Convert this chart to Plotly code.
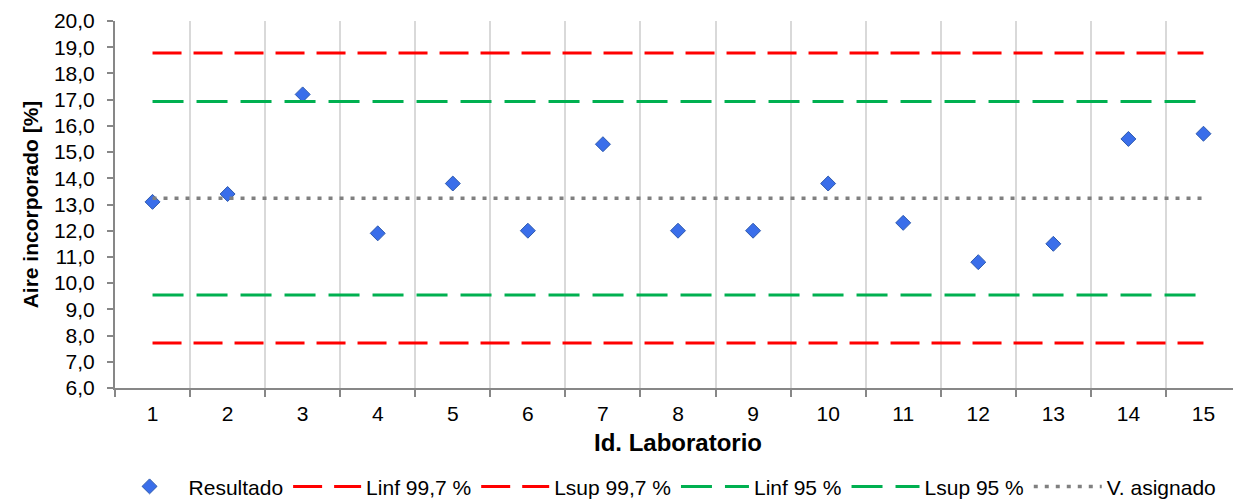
import plotly.graph_objects as go

labs = list(range(1, 15 + 1))
resultado = [13.1, 13.4, 17.2, 11.9, 13.8, 12.0, 15.3, 12.0, 12.0, 13.8, 12.3, 10.8, 11.5, 15.5, 15.7]
v_asignado = 13.24
linf_997 = 7.72
lsup_997 = 18.78
linf_95 = 9.55
lsup_95 = 16.93
y_ticks = [6.0 + i for i in range(15)]

FONT = "Liberation Sans, Arial, sans-serif"

fig = go.Figure()
fig.add_trace(go.Scatter(
    x=labs, y=resultado, mode="markers", name="Resultado",
    marker=dict(symbol="diamond", size=11.5, color="#3A6EEA",
                line=dict(color="#2E5AAE", width=1)),
))
fig.add_trace(go.Scatter(x=labs, y=[linf_997] * len(labs), mode="lines", name="Linf 99,7 %",
                         line=dict(color="#FF0000", width=3, dash="29px,12px")))
fig.add_trace(go.Scatter(x=labs, y=[lsup_997] * len(labs), mode="lines", name="Lsup 99,7 %",
                         line=dict(color="#FF0000", width=3, dash="29px,12px")))
fig.add_trace(go.Scatter(x=labs, y=[linf_95] * len(labs), mode="lines", name="Linf 95 %",
                         line=dict(color="#00B050", width=3, dash="31px,13px")))
fig.add_trace(go.Scatter(x=labs, y=[lsup_95] * len(labs), mode="lines", name="Lsup 95 %",
                         line=dict(color="#00B050", width=3, dash="31px,13px")))
fig.add_trace(go.Scatter(x=labs, y=[v_asignado] * len(labs), mode="lines", name="V. asignado",
                         line=dict(color="#808080", width=3.5, dash="4px,7px")))

fig.update_layout(
    width=1233, height=491,
    margin=dict(l=107, r=0, t=13, b=111),
    paper_bgcolor="white", plot_bgcolor="white",
    separators=",.",
    font=dict(family=FONT, size=21, color="#000000"),
    showlegend=True,
    legend=dict(orientation="h", x=0.5337, xanchor="center", xref="container",
                y=0.025, yanchor="middle", yref="container",
                font=dict(size=21, family=FONT), itemwidth=68, tracegroupgap=0),
)
fig.update_xaxes(
    range=[0.5, 15.5], tickmode="array", tickvals=labs, ticktext=[str(v) for v in labs],
    showgrid=False, ticks="outside", ticklen=6, tickcolor="rgba(0,0,0,0)",
    showline=True, linecolor="#878787", linewidth=2,
    tickfont=dict(size=21), zeroline=False,
    minor=dict(tickmode="array", tickvals=[i + 0.5 for i in range(0, 16)], showgrid=True,
               gridcolor="#D9D9D9", gridwidth=1.5, ticks="outside", ticklen=7,
               tickcolor="#878787", tickwidth=1.5),
    title=dict(text="<b>Id. Laboratorio</b>", font=dict(size=24), standoff=10),
)
fig.update_yaxes(
    range=[6, 20], tickmode="array", tickvals=y_ticks, tickformat=".1f",
    showgrid=False, ticks="outside", ticklen=6, tickcolor="#878787", tickwidth=1.5,
    showline=True, linecolor="#878787", linewidth=2, zeroline=False,
    tickfont=dict(size=21), ticklabelstandoff=8,
    title=dict(text="<b>Aire incorporado [%]</b>", font=dict(size=21), standoff=10),
)

fig.write_html("out.html")
